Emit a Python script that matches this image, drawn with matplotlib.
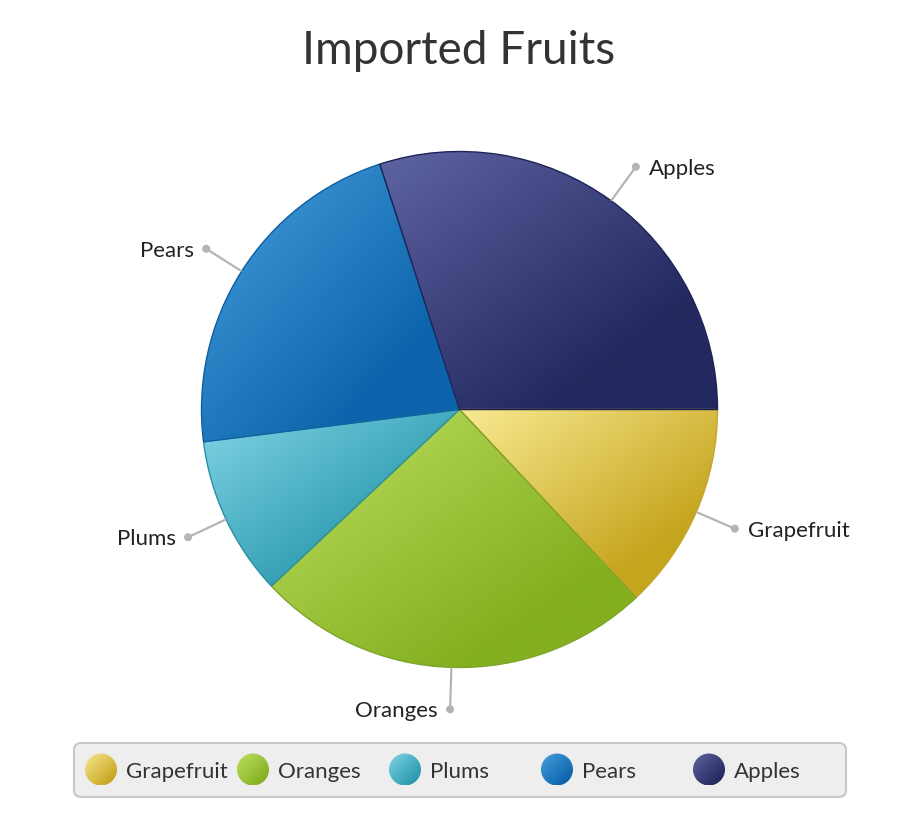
import numpy as np
import matplotlib
matplotlib.use("Agg")
import matplotlib.pyplot as plt
from matplotlib.patches import FancyBboxPatch, Circle
from matplotlib.colors import to_rgb

# ---- data ----
categories = ["Grapefruit", "Oranges", "Plums", "Pears", "Apples"]
values = [13, 25, 10, 22, 30]
light_colors = ["#f9ea92", "#bfe062", "#82d5e5", "#46a0dd", "#5f64a3"]
dark_colors = ["#c6a51e", "#84b020", "#2897ad", "#0c63ab", "#23285f"]
edge_colors = ["#c4a52a", "#7ea42a", "#2a90a6", "#0e5fa0", "#1e2356"]
title = "Imported Fruits"

W, H = 910, 838
FONT = ["Lato", "DejaVu Sans"]
plt.rcParams["font.family"] = FONT

fig = plt.figure(figsize=(W / 100, H / 100), dpi=100)
ax = fig.add_axes([0, 0, 1, 1])

cx, cy = 459.5, H - 409.5
R = 258

wedges, _ = ax.pie(values, startangle=0, counterclock=False,
                   center=(cx, cy), radius=R,
                   wedgeprops=dict(facecolor="none", linewidth=1.0))


def gradient(c1, c2, n=256, stop=0.75):
    u = np.linspace(0, 1, n)
    X, Y = np.meshgrid(u, u)
    t = np.clip((X + Y) / 2.0 / stop, 0, 1)
    a = np.array(to_rgb(c1))
    b = np.array(to_rgb(c2))
    return a[None, None, :] * (1 - t[..., None]) + b[None, None, :] * t[..., None]


for w, lc, dc, ec in zip(wedges, light_colors, dark_colors, edge_colors):
    w.set_edgecolor(ec)
    w.set_zorder(3)
    bb = w.get_path().get_extents()
    im = ax.imshow(gradient(lc, dc), extent=(bb.x0, bb.x1, bb.y0, bb.y1),
                   origin="upper", interpolation="bilinear", zorder=2)
    im.set_clip_path(w)

# ---- labels with leader lines ----
total = sum(values)
cum = 0
for name, v in zip(categories, values):
    mid = -(cum + v / 2) / total * 2 * np.pi
    cum += v
    ca, sa = np.cos(mid), np.sin(mid)
    x1, y1 = cx + R * ca, cy + R * sa
    x2, y2 = cx + 300 * ca, cy + 300 * sa
    ax.plot([x1, x2], [y1, y2], color="#b4b4b4", lw=1.6, zorder=4,
            solid_capstyle="butt")
    ax.add_patch(Circle((x2, y2), 3.3, color="#b4b4b4", zorder=5))
    if ca >= 0.0:
        ax.text(x2 + 13, y2, name, ha="left", va="center_baseline",
                fontsize=16, color="#222222", zorder=6)
    else:
        ax.text(x2 - 12, y2, name, ha="right", va="center_baseline",
                fontsize=16, color="#222222", zorder=6)

# ---- title ----
ax.text(W / 2 + 4, H - 47, title, ha="center", va="center_baseline",
        fontsize=33, color="#333333")

# ---- legend ----
lx0, lx1 = 74, 846
ly0, ly1 = H - 797, H - 743
box = FancyBboxPatch((lx0, ly0), lx1 - lx0, ly1 - ly0,
                     boxstyle="round,pad=0,rounding_size=7",
                     facecolor="#eeeeee", edgecolor="#c8c8c8", lw=1.5, zorder=1)
ax.add_patch(box)
ly = H - 769.5
for i, (name, lc, dc) in enumerate(zip(categories, light_colors, dark_colors)):
    mx = 101 + i * 152
    circ = Circle((mx, ly), 16, facecolor="none", edgecolor="none", zorder=3)
    ax.add_patch(circ)
    im = ax.imshow(gradient(lc, dc, stop=0.85), extent=(mx - 16, mx + 16, ly - 16, ly + 16),
                   origin="upper", interpolation="bilinear", zorder=2)
    im.set_clip_path(circ)
    ax.text(mx + 25, ly, name, ha="left", va="center_baseline",
            fontsize=16, color="#333333", zorder=4)

ax.set_xlim(0, W)
ax.set_ylim(0, H)
ax.set_aspect("auto")
ax.axis("off")

fig.savefig("out.png", dpi=100, facecolor="white")
